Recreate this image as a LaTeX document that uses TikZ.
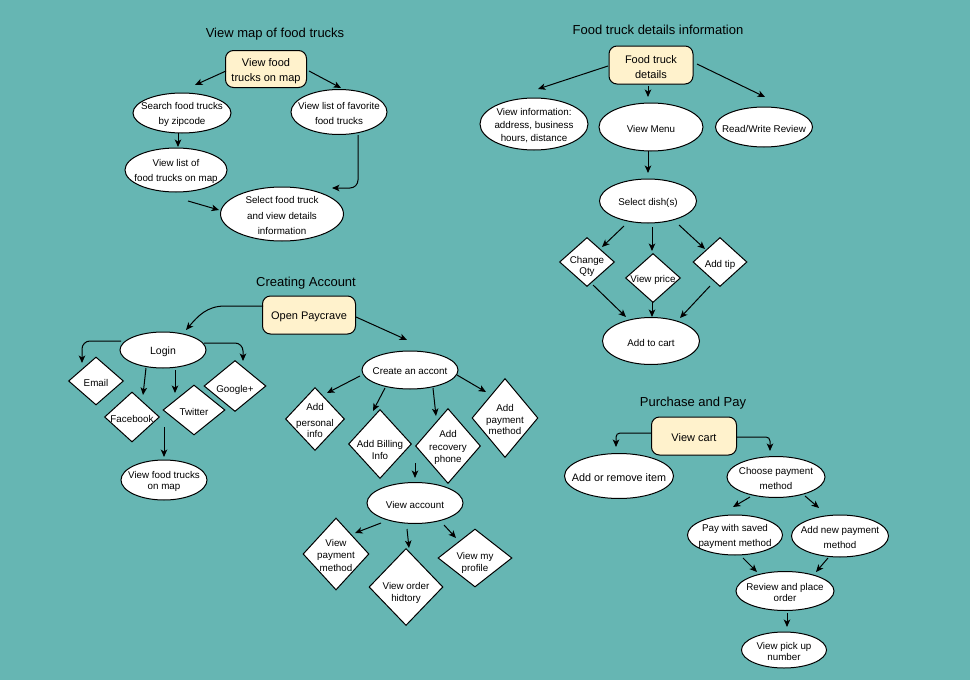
\documentclass[tikz,border=0pt]{standalone}
\usepackage{fontspec}
\setmainfont{Liberation Sans}
\usetikzlibrary{shapes.geometric,arrows.meta,calc}
\definecolor{bg}{HTML}{66B6B3}
\definecolor{yel}{HTML}{FFF2CC}
\begin{document}
\begin{tikzpicture}[x=1pt,y=-1pt,
  arr/.style={draw=black, line width=1pt, -{Stealth[length=7.5pt,width=6.5pt,inset=2pt]}},
  lab/.style={align=center, font=\fontsize{9.8}{11.8}\selectfont, inner sep=0pt, yshift=-1.5pt},
  blab/.style={align=center, font=\fontsize{11}{13.5}\selectfont, inner sep=0pt, yshift=-2pt},
  ell/.style n args={3}{ellipse, draw=black, fill=white, line width=1pt, minimum width=#1pt, minimum height=#2pt, inner sep=0pt, label={[lab]center:{#3}}},
  dia/.style n args={3}{diamond, draw=black, fill=white, line width=1pt, minimum width=#1pt, minimum height=#2pt, inner sep=0pt, label={[lab]center:{#3}}},
  box/.style n args={3}{rectangle, rounded corners=8pt, draw=black, fill=yel, line width=1pt, minimum width=#1pt, minimum height=#2pt, inner sep=0pt, label={[blab]center:{#3}}},
  ttl/.style={font=\fontsize{13}{15}\selectfont, inner sep=0pt}
]
\fill[bg] (0,0) rectangle (970,680);
\useasboundingbox (0,0) rectangle (970,680);

% ---------- View map of food trucks ----------
\node[ttl] (t1) at (275,34) {View map of food trucks};
\node[box={81}{37}{View food\\[1.5pt]trucks on map}] (vfm) at (266,69) {};
\node[ell={98}{40}{Search food trucks\\[4pt]by zipcode}] (sz) at (182,113) {};
\node[ell={96}{45}{View list of favorite\\[2.5pt]food trucks}] (fav) at (339,112) {};
\node[ell={102}{44}{View list of\\[4pt]food trucks on map}] (vl) at (176,170) {};
\node[ell={123}{54}{Select food truck\\[4pt]and view details\\[4pt]information}] (sel) at (282,214) {};

\draw[arr] ($(vfm)+(-40,2)$) -- ($(sz)+(13,-28)$);
\draw[arr] ($(vfm)+(43,2)$) -- ($(fav)+(2,-24)$);
\draw[arr] ($(sz)+(-4,20)$) -- ($(vl)+(2,-23)$);
\draw[arr, rounded corners=8pt] ($(fav)+(19,23)$) |- ($(sel)+(50,-26)$);
\draw[arr] ($(vl)+(12,31)$) -- ($(sel)+(-63,-4)$);

% ---------- Food truck details information ----------
\node[ttl] (t2) at (658,30) {Food truck details information};
\node[box={84}{38}{Food truck\\[1.5pt]details}] (ftd) at (651,65) {};
\node[ell={108}{52}{View information:\\[1.2pt]address, business\\[1.2pt]hours, distance}] (vi) at (534,124) {};
\node[ell={104}{48}{View Menu}] (vm) at (651,127) {};
\node[ell={97}{40}{Read/Write Review}] (rw) at (764,127) {};
\node[ell={97}{44}{Select dish(s)}] (sd) at (648,201) {};
\node[dia={55}{49}{}, label={[lab,yshift=-3pt]center:{Change\\[-1pt]Qty}}] (cq) at (587,262) {};
\node[dia={55}{49}{View price}] (vp) at (653,278) {};
\node[dia={54}{49}{}, label={[lab,yshift=-1.5pt]center:{Add tip}}] (at) at (720,262) {};
\node[ell={97}{47}{Add to cart}] (atc) at (651,341) {};

\draw[arr] ($(ftd)+(-43,1)$) -- ($(vi)+(4,-35)$);
\draw[arr] ($(ftd)+(-3,21)$) -- ($(vm)+(-3,-30)$);
\draw[arr] ($(ftd)+(46,-1)$) -- ($(rw)+(1,-30)$);
\draw[arr] ($(vm)+(-3,24)$) -- ($(sd)+(0,-28)$);
\draw[arr] ($(sd)+(-24,25)$) -- ($(cq)+(15,-15)$);
\draw[arr] ($(sd)+(4,26)$) -- ($(vp)+(-1,-27)$);
\draw[arr] ($(sd)+(31,24)$) -- ($(at)+(-15,-13)$);
\draw[arr] ($(cq)+(6,23)$) -- ($(atc)+(-25,-24)$);
\draw[arr] ($(vp)+(-1,24)$) -- ($(atc)+(1,-24)$);
\draw[arr] ($(at)+(-10,24)$) -- ($(atc)+(29,-23)$);

% ---------- Creating Account ----------
\node[ttl] (t3) at (306,283) {Creating Account};
\node[box={93}{38}{Open Paycrave}] (op) at (309,315) {};
\node[ell={86}{36}{\fontsize{10.5}{12}\selectfont Login}] (login) at (163,350) {};
\node[dia={55}{48}{Email}] (email) at (96,381) {};
\node[dia={55}{50}{Facebook}] (fb) at (132,417) {};
\node[dia={62}{50}{Twitter}] (tw) at (194,410) {};
\node[dia={62}{51}{}, label={[lab,yshift=-2.5pt]center:{Google+}}] (gp) at (235,386) {};
\node[ell={86}{40}{View food trucks\\on map}] (vfm2) at (164,480) {};
\node[ell={96}{38}{Create an accont}] (ca) at (410,370) {};
\node[dia={59}{63}{Add\\[4pt]personal\\info}] (api) at (315,419) {};
\node[dia={63}{69}{}, label={[lab,yshift=-4.5pt]center:{Add Billing\\Info}}] (abi) at (380,444) {};
\node[dia={65}{75}{Add\\[0.5pt]recovery\\phone}] (arp) at (448,446) {};
\node[dia={66}{79}{Add\\payment\\method}] (apm) at (505,418) {};
\node[ell={96}{41}{View account}] (va) at (415,503) {};
\node[dia={66}{72}{View\\[0.5pt]payment\\[1.5pt]method}] (vpm) at (336,554) {};
\node[dia={74}{77}{}, label={[lab,yshift=-4.5pt]center:{View order\\[0.5pt]hidtory}}] (voh) at (406,587) {};
\node[dia={74}{58}{}, label={[lab,yshift=-3.5pt]center:{View my\\[1pt]profile}}] (vmp) at (475,558) {};

\draw[arr] ($(op)+(-46,-9)$) -- ($(op)+(-84,-9)$) .. controls +(-18,0) and +(12,-14) .. ($(login)+(23,-20)$);
\draw[arr, rounded corners=8pt] ($(login)+(-42,-9)$) -| ($(email)+(-14,-18)$);
\draw[arr, rounded corners=8pt] ($(login)+(41,-7)$) -| ($(gp)+(8,-25)$);
\draw[arr] ($(login)+(-17,18)$) -- ($(fb)+(11,-22)$);
\draw[arr] ($(login)+(12,20)$) -- ($(tw)+(-19,-17)$);
\draw[arr] ($(fb)+(32,10)$) -- ($(vfm2)+(0,-23)$);
\draw[arr] ($(op)+(47,2)$) -- ($(ca)+(-3,-30)$);
\draw[arr] ($(ca)+(-50,6)$) -- ($(api)+(12,-26)$);
\draw[arr] ($(ca)+(-25,18)$) -- ($(abi)+(-7,-33)$);
\draw[arr] ($(ca)+(23,18)$) -- ($(arp)+(-12,-30)$);
\draw[arr] ($(ca)+(47,5)$) -- ($(apm)+(-19,-26)$);
\draw[arr] ($(va)+(0,-40)$) -- ($(va)+(0,-25)$);
\draw[arr] ($(va)+(-34,20)$) -- ($(vpm)+(19,-21)$);
\draw[arr] ($(va)+(-8,26)$) -- ($(voh)+(3,-39)$);
\draw[arr] ($(va)+(29,22)$) -- ($(vmp)+(-19,-20)$);

% ---------- Purchase and Pay ----------
\node[ttl] (t4) at (693,403) {Purchase and Pay};
\node[box={85}{38}{View cart}] (vc) at (694,436) {};
\node[ell={109}{45}{\fontsize{10.8}{13}\selectfont Add or remove item}] (ari) at (619,476) {};
\node[ell={98}{41}{Choose payment\\[3.5pt]method}] (cpm) at (776,477) {};
\node[ell={95}{40}{Pay with saved\\[3.5pt]payment method}] (pws) at (735,535) {};
\node[ell={97}{42}{Add new payment\\[3.5pt]method}] (anp) at (840,536) {};
\node[ell={98}{39}{Review and place\\order}] (rpo) at (785,591) {};
\node[ell={85}{36}{View pick up\\number}] (vpn) at (784,650) {};

\draw[arr, rounded corners=4pt] ($(vc)+(-43,-3)$) -| ($(ari)+(-3,-29)$);
\draw[arr, rounded corners=4pt] ($(vc)+(42,1)$) -| ($(cpm)+(-6,-26)$);
\draw[arr] ($(cpm)+(-26,20)$) -- ($(pws)+(-2,-28)$);
\draw[arr] ($(cpm)+(29,19)$) -- ($(anp)+(-21,-28)$);
\draw[arr] ($(pws)+(8,23)$) -- ($(rpo)+(-28,-19)$);
\draw[arr] ($(anp)+(-12,22)$) -- ($(rpo)+(31,-19)$);
\draw[arr] ($(rpo)+(2,22)$) -- ($(vpn)+(3,-23)$);
\end{tikzpicture}
\end{document}
